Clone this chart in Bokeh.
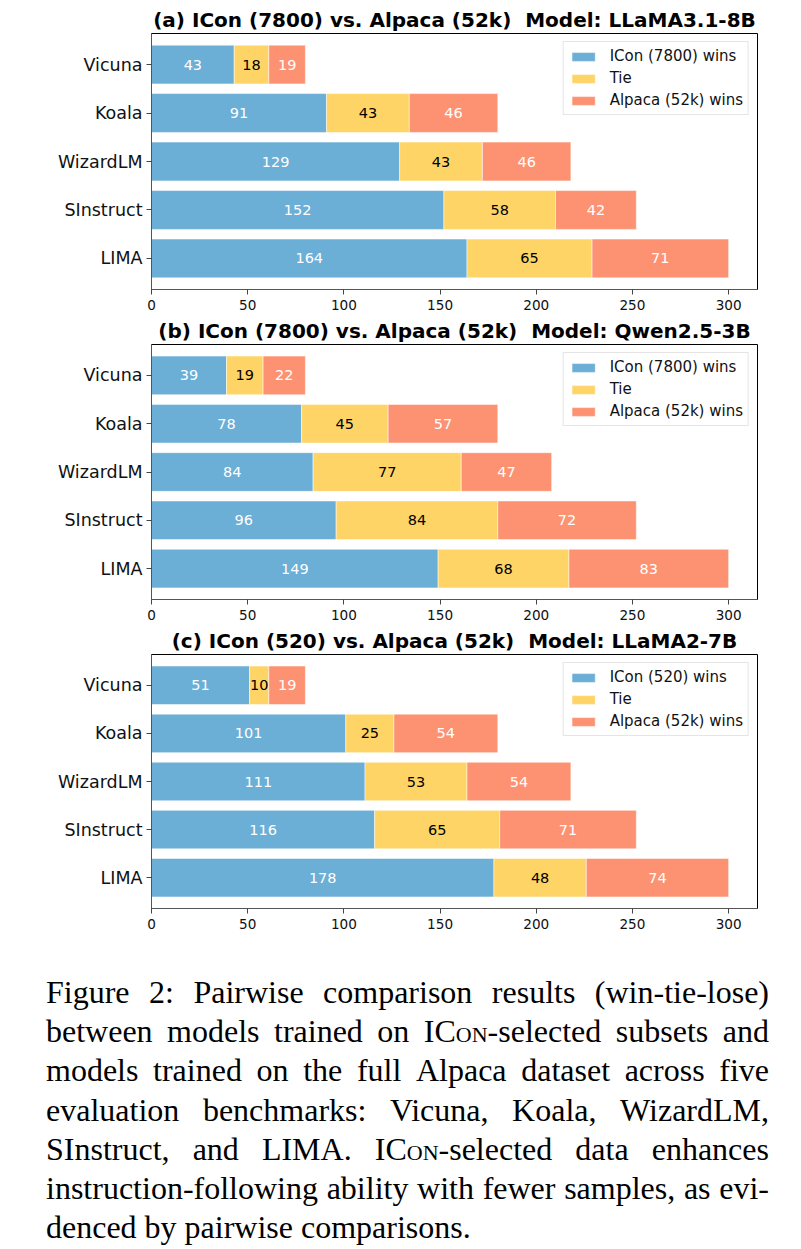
from bokeh.plotting import figure
from bokeh.models import ColumnDataSource, Legend, LegendItem, FixedTicker, Range1d, Div
from bokeh.layouts import column
from bokeh.embed import file_html
from bokeh.resources import INLINE
from bokeh.core.properties import value

benchmarks = ["Vicuna", "Koala", "WizardLM", "SInstruct", "LIMA"]

a_wins = [43, 91, 129, 152, 164]
a_ties = [18, 43, 43, 58, 65]
a_loss = [19, 46, 46, 42, 71]

b_wins = [39, 78, 84, 96, 149]
b_ties = [19, 45, 77, 84, 68]
b_loss = [22, 57, 47, 72, 83]

c_wins = [51, 101, 111, 116, 178]
c_ties = [10, 25, 53, 65, 48]
c_loss = [19, 54, 54, 71, 74]

titles = [
    "(a) ICon (7800) vs. Alpaca (52k) \u00a0Model: LLaMA3.1-8B",
    "(b) ICon (7800) vs. Alpaca (52k) \u00a0Model: Qwen2.5-3B",
    "(c) ICon (520) vs. Alpaca (52k) \u00a0Model: LLaMA2-7B",
]
win_names = ["ICon (7800) wins", "ICon (7800) wins", "ICon (520) wins"]
tie_name = "Tie"
loss_name = "Alpaca (52k) wins"
x_ticks = [0, 50, 100, 150, 200, 250, 300]

caption_lines = [
    "Figure 2: Pairwise comparison results (win-tie-lose)",
    "between models trained on ICon-selected subsets and",
    "models trained on the full Alpaca dataset across five",
    "evaluation benchmarks: Vicuna, Koala, WizardLM,",
    "SInstruct, and LIMA. ICon-selected data enhances",
    "instruction-following ability with fewer samples, as evi-",
    "denced by pairwise comparisons.",
]

C_WIN = "#6baed6"
C_TIE = "#fed466"
C_LOSS = "#fc9272"
FONT = "DejaVu Sans"


def make_panel(title, win_name, wins, ties, loss, height, top):
    ypos = list(range(len(benchmarks)))
    w_left = [0] * len(wins)
    w_right = wins
    t_left = wins
    t_right = [w + t for w, t in zip(wins, ties)]
    l_left = t_right
    l_right = [w + t + l for w, t, l in zip(wins, ties, loss)]

    src = ColumnDataSource(dict(
        y=ypos, wl=w_left, wr=w_right, tl=t_left, tr=t_right, ll=l_left, lr=l_right,
        wc=[(a + b) / 2 for a, b in zip(w_left, w_right)],
        tc=[(a + b) / 2 for a, b in zip(t_left, t_right)],
        lc=[(a + b) / 2 for a, b in zip(l_left, l_right)],
        wt=[str(v) for v in wins], tt=[str(v) for v in ties], lt=[str(v) for v in loss],
    ))

    p = figure(width=801, height=height, x_range=Range1d(0, 315), y_range=Range1d(4.64, -0.64),
               output_backend="svg", toolbar_location=None,
               min_border_left=151, min_border_right=44, min_border_top=top, min_border_bottom=25)
    p.title.text = title
    p.title.text_font = FONT
    p.title.text_font_size = "20px"
    p.title.text_font_style = "bold"
    p.title.align = "center"
    p.title.text_color = "#000000"
    p.title.standoff = 4

    rw = p.hbar(y="y", left="wl", right="wr", height=0.8, fill_color=C_WIN, line_color="white", line_width=0.5, source=src)
    rt = p.hbar(y="y", left="tl", right="tr", height=0.8, fill_color=C_TIE, line_color="white", line_width=0.5, source=src)
    rl = p.hbar(y="y", left="ll", right="lr", height=0.8, fill_color=C_LOSS, line_color="white", line_width=0.5, source=src)

    for xc, tc, col in (("wc", "wt", "white"), ("tc", "tt", "black"), ("lc", "lt", "white")):
        p.text(x=xc, y="y", text=tc, source=src, text_align="center", text_baseline="middle",
               text_font=value(FONT), text_font_size="14.5px", text_color=col)

    p.xgrid.visible = False
    p.ygrid.visible = False
    p.outline_line_color = "black"
    p.outline_line_width = 1

    xa = p.xaxis[0]
    xa.ticker = FixedTicker(ticks=x_ticks)
    xa.major_tick_out = 5
    xa.major_tick_in = 0
    xa.minor_tick_out = 0
    xa.minor_tick_in = 0
    xa.major_label_text_font = FONT
    xa.major_label_text_font_size = "13.6px"
    xa.major_label_text_color = "#111111"
    xa.major_label_standoff = 5
    xa.axis_line_color = "#555555"
    xa.major_tick_line_color = "#444444"

    ya = p.yaxis[0]
    ya.ticker = FixedTicker(ticks=ypos)
    ya.major_label_overrides = {i: b for i, b in zip(ypos, benchmarks)}
    ya.major_tick_out = 5
    ya.major_tick_in = 0
    ya.minor_tick_out = 0
    ya.minor_tick_in = 0
    ya.major_label_text_font = FONT
    ya.major_label_text_font_size = "17.5px"
    ya.major_label_text_color = "#111111"
    ya.major_label_standoff = 4
    ya.axis_line_color = "#555555"
    ya.major_tick_line_color = "#444444"

    legend = Legend(items=[
        LegendItem(label=win_name, renderers=[rw]),
        LegendItem(label=tie_name, renderers=[rt]),
        LegendItem(label=loss_name, renderers=[rl]),
    ], location="top_right")
    legend.label_text_font = FONT
    legend.label_text_font_size = "15px"
    legend.label_text_color = "#111111"
    legend.glyph_width = 29
    legend.glyph_height = 11
    legend.label_height = 18
    legend.label_standoff = 12
    legend.spacing = 4
    legend.padding = 5
    legend.margin = 8
    legend.border_line_color = "#cccccc"
    legend.border_line_width = 1
    legend.background_fill_alpha = 0.9
    p.add_layout(legend)
    return p


pa = make_panel(titles[0], win_names[0], a_wins, a_ties, a_loss, 314, 33)
pb = make_panel(titles[1], win_names[1], b_wins, b_ties, b_loss, 310, 30)
pc = make_panel(titles[2], win_names[2], c_wins, c_ties, c_loss, 309, 29)


def fmt_word(w):
    return w.replace("ICon", 'IC<span style="font-variant:small-caps">on</span>')


rows = []
for i, line in enumerate(caption_lines):
    words = [fmt_word(w) for w in line.split(" ")]
    if i < len(caption_lines) - 1:
        inner = "".join("<span>" + w + "</span>" for w in words)
        rows.append('<div style="display:flex;justify-content:space-between;white-space:nowrap;">' + inner + "</div>")
    else:
        rows.append('<div style="white-space:nowrap;">' + " ".join(words) + "</div>")

html = ('<div style="font-family:\'Liberation Serif\',serif;font-size:32px;line-height:39.2px;color:#000;'
        'width:723px;margin-left:41px;margin-top:35px;">' + "".join(rows) + "</div>")
cap = Div(text=html, width=801, height=316)

layout = column(pa, pb, pc, cap, spacing=0)
open("out.html", "w").write(file_html(layout, INLINE))
